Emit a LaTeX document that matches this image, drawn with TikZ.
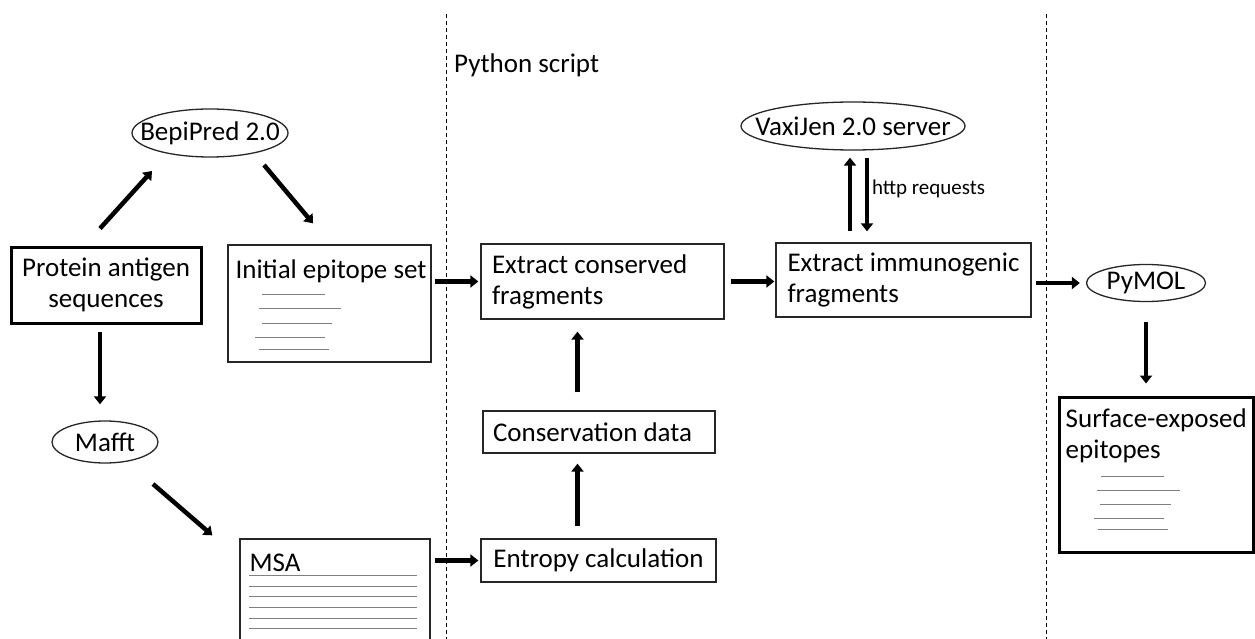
\documentclass[tikz,border=0pt]{standalone}
\usepackage{fontspec}
\setmainfont{Carlito}
\usetikzlibrary{arrows.meta,shapes.geometric}

\tikzset{
  proc/.style={draw=black!85, line width=1.3pt, rectangle, inner ysep=0pt, align=flush left},
  heavy/.style={draw=black, line width=3pt, rectangle, inner sep=0pt},
  tool/.style={draw=black!85, line width=1.3pt, ellipse, inner xsep=-20pt, inner ysep=0pt},
  flow/.style={line width=4.5pt, -{Triangle[width=12pt,length=8pt]}},
  split/.style={line width=1pt, dash pattern=on 4pt off 3pt},
  seqline/.style={draw=black!50, line width=1.3pt}
}

\begin{document}
\begin{tikzpicture}[x=1pt, y=-1pt, font=\fontsize{27}{31}\selectfont]
\useasboundingbox (0,0) rectangle (1255,639);
\draw[split] (446,14) -- (446,639);
\draw[split] (1046,14) -- (1046,639);
\node[anchor=west, inner sep=0pt] (script) at (454,65) {Python script};

\node[heavy, minimum width=190pt, minimum height=76pt, align=center] (prot) at (106,285) {Protein antigen\\sequences};
\node[tool, minimum width=156pt, minimum height=48pt] (bepi) at (210,133) {BepiPred 2.0};
\node[proc, minimum width=203pt, minimum height=117pt] (init) at (329.5,303.5) {};
\node[anchor=west, inner sep=0pt] (inittext) at ([shift={(8,27)}]init.north west) {Initial epitope set};
\foreach \a/\b/\y in {35/98/50, 32/114/64, 35/105/79, 28/98/93, 32/102/105}
  \draw[seqline] ([shift={(\a,\y)}]init.north west) -- ([shift={(\b,\y)}]init.north west);

\node[tool, minimum width=106pt, minimum height=42pt] (mafft) at (105,442) {Mafft};
\node[proc, minimum width=190pt, minimum height=162pt] (msa) at (335,620) {};
\node[anchor=west, inner sep=0pt] (msatext) at ([shift={(10,24)}]msa.north west) {MSA};
\foreach \y in {37,48,58,69,80,90}
  \draw[seqline] ([shift={(10,\y)}]msa.north west) -- ([shift={(178,\y)}]msa.north west);

\node[proc, text width=221pt, inner xsep=11pt, minimum height=75pt] (cons) at (602.5,281.5) {Extract conserved\\fragments};
\node[proc, text width=212pt, inner xsep=10pt, minimum height=42pt] (consdata) at (599,432) {Conservation data};
\node[proc, minimum width=235pt, minimum height=43pt] (entropy) at (598.5,560.5) {Entropy calculation};
\node[proc, minimum width=255pt, minimum height=74pt] (immu) at (903.5,280) {Extract immunogenic\\fragments};
\node[tool, minimum width=224pt, minimum height=48pt] (vaxi) at (853,126) {VaxiJen 2.0 server};
\node[tool, minimum width=119pt, minimum height=37pt] (pymol) at (1146,283) {PyMOL};
\node[heavy, minimum width=194pt, minimum height=155pt] (surf) at (1156,474.5) {};
\node[anchor=north west, inner sep=0pt, align=flush left] (surftext) at ([shift={(8,13)}]surf.north west) {Surface-exposed\\epitopes};
\foreach \a/\b/\y in {43/106/81, 39/122/95, 42/113/109, 36/106/123, 40/110/134}
  \draw[seqline] ([shift={(\a,\y)}]surf.north west) -- ([shift={(\b,\y)}]surf.north west);

\draw[flow] ([shift={(-6,-17)}]prot.north) -- ([shift={(-58,38)}]bepi.center);
\draw[flow] ([shift={(54,32)}]bepi.center) -- ([shift={(-16.5,-21)}]init.north);
\draw[flow] ([shift={(-6,7)}]prot.south) -- ([shift={(-5,-16)}]mafft.north);
\draw[flow] ([shift={(48,42)}]mafft.center) -- ([shift={(-27,-3)}]msa.north west);
\draw[flow, shorten <=3pt, shorten >=2pt] (init.east |- cons.west) -- (cons.west);
\draw[flow, shorten <=4pt, shorten >=2pt] (msa.east |- entropy.west) -- (entropy.west);
\draw[flow, shorten <=12pt, shorten >=10pt] ([xshift=-21pt]entropy.north) -- ([xshift=-21pt]entropy.north |- consdata.south);
\draw[flow, shorten <=18pt, shorten >=12pt] ([xshift=-21pt]entropy.north |- consdata.north) -- ([xshift=-21pt]entropy.north |- cons.south);
\draw[flow, shorten <=6pt, shorten >=1pt] (cons.east) -- (cons.east -| immu.west);
\draw[flow, line width=4pt, shorten <=11pt, shorten >=7pt] ([xshift=-3pt]vaxi.south |- immu.north) -- ([xshift=-3pt]vaxi.south);
\draw[flow, line width=4pt, shorten <=7pt, shorten >=11pt] ([xshift=14pt]vaxi.south) -- ([xshift=14pt]vaxi.south |- immu.north)
  node[midway, right, inner xsep=3pt, yshift=8pt, font=\fontsize{21}{25}\selectfont] (http) {http requests};
\draw[flow, shorten <=4pt, shorten >=6pt] (immu.east |- pymol.west) -- (pymol.west);
\draw[flow, shorten <=20pt, shorten >=12pt] (pymol.south) -- (pymol.south |- surf.north);
\end{tikzpicture}
\end{document}
